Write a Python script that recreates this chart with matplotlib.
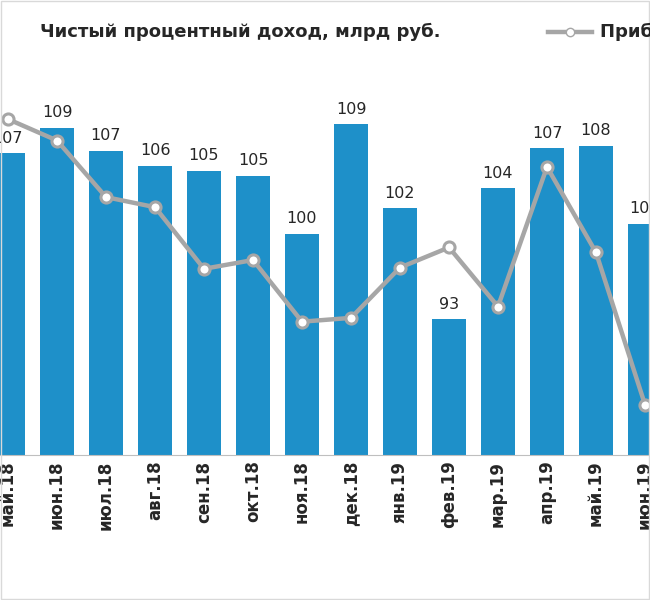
import matplotlib
matplotlib.use("Agg")
import matplotlib.pyplot as plt
from matplotlib.lines import Line2D

months = ["май.18","июн.18","июл.18","авг.18","сен.18","окт.18","ноя.18","дек.18",
          "янв.19","фев.19","мар.19","апр.19","май.19","июн.19"]
nii = [107,109,107,106,105,105,100,109,102,93,104,107,108,101]
nii_plot = [106.6,108.6,106.8,105.6,105.2,104.8,100.2,108.9,102.2,93.4,103.8,107.0,107.2,101.0]
profit = [109.3,107.6,103.1,102.3,97.4,98.1,93.2,93.5,97.5,99.1,94.4,105.5,98.7,86.6]

W, H = 650, 600
fig = plt.figure(figsize=(6.5, 6.0), dpi=100)
ax = fig.add_axes([-16.5/W, 145/H, 686/W, 395/H])
x = list(range(len(months)))
ax.bar(x, nii_plot, width=0.68, color="#1e90c9", zorder=2)
for xi, v, lab in zip(x, nii_plot, nii):
    ax.text(xi, v + 0.6, str(lab), ha="center", va="bottom", fontsize=11.5, color="#262626")
ax.plot(x, profit, color="#a6a6a6", lw=3.2, marker="o", ms=8,
        mfc="#ffffff", mec="#a6a6a6", mew=2.2, zorder=3)
ax.set_xlim(-0.5, 13.5)
ax.set_ylim(82.6, 114)
ax.set_yticks([])
ax.set_xticks(x)
ax.set_xticklabels(months, rotation=90, fontsize=12, fontweight="bold", color="#262626")
ax.tick_params(axis="x", length=0, pad=4)
for s in ["top", "right", "left"]:
    ax.spines[s].set_visible(False)
ax.spines["bottom"].set_color("#bfbfbf")

fig.text(440/W, 1-32/H, "Чистый процентный доход, млрд руб.", ha="right", va="center",
         fontsize=13, fontweight="bold", color="#262626")
leg = Line2D([548/W, 570/W, 592/W], [1-32/H]*3, color="#a6a6a6", lw=3.2,
             marker="o", ms=6, mfc="#ffffff", mec="#a6a6a6", markevery=[1],
             transform=fig.transFigure)
fig.add_artist(leg)
fig.text(600/W, 1-32/H, "Прибыль, млрд руб.", ha="left", va="center",
         fontsize=13, fontweight="bold", color="#262626")
fig.add_artist(plt.Rectangle((0.002, 0.002), 0.996, 0.996, fill=False, ec="#d9d9d9", lw=1,
                             transform=fig.transFigure))
fig.savefig("out.png", dpi=100)
